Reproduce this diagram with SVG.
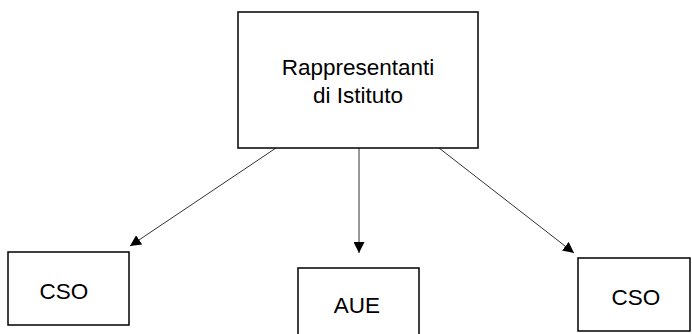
<svg xmlns="http://www.w3.org/2000/svg" width="692" height="334" viewBox="0 0 692 334">
<style>
.box{fill:#fff;stroke:#000;stroke-width:1.5}
.lbl{font-family:"Liberation Sans",Arial,sans-serif;font-size:22.5px;fill:#000;text-anchor:middle}
.conn{stroke:#333;stroke-width:1;fill:none}
</style>
<defs>
<marker id="ah" viewBox="0 0 10 10" refX="10" refY="5" markerWidth="11" markerHeight="11" markerUnits="userSpaceOnUse" orient="auto">
<path d="M0,0 L10,5 L0,10 Z" fill="#000"/>
</marker>
</defs>
<rect width="692" height="334" fill="#fff"/>
<g id="connectors">
<line class="conn" x1="276" y1="148" x2="130" y2="246" marker-end="url(#ah)"/>
<line class="conn" x1="359" y1="148" x2="359" y2="253" marker-end="url(#ah)"/>
<line class="conn" x1="439" y1="148" x2="574" y2="253" marker-end="url(#ah)"/>
</g>
<g id="n-rappresentanti">
<rect class="box" x="238" y="12" width="240" height="136"/>
<text class="lbl" x="358" y="75">Rappresentanti</text>
<text class="lbl" x="358" y="103">di Istituto</text>
</g>
<g id="n-cso-left">
<rect class="box" x="8" y="252" width="121" height="73"/>
<text class="lbl" x="64" y="299">CSO</text>
</g>
<g id="n-aue">
<rect class="box" x="298" y="268" width="121" height="70"/>
<text class="lbl" x="357" y="313">AUE</text>
</g>
<g id="n-cso-right">
<rect class="box" x="578" y="258" width="112" height="73"/>
<text class="lbl" x="636" y="305">CSO</text>
</g>
</svg>
